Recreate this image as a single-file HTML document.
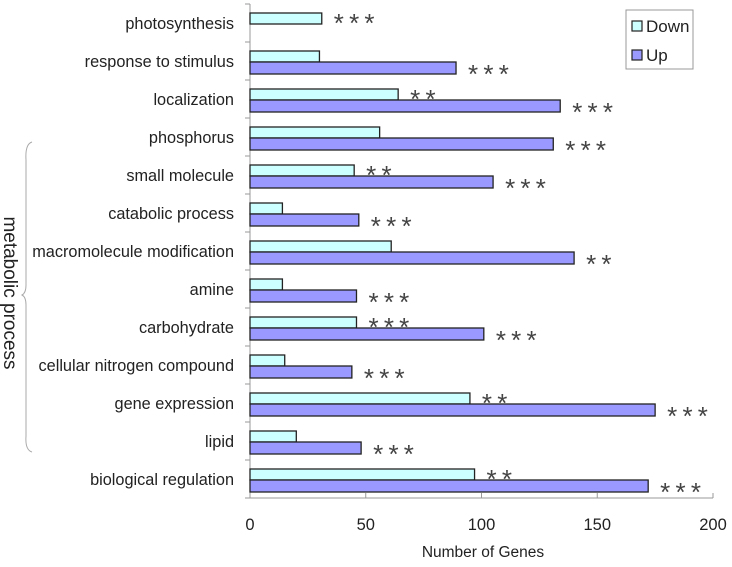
<!DOCTYPE html>
<html><head><meta charset="utf-8"><style>
html,body{margin:0;padding:0;background:#fff;}
svg{display:block;font-family:"Liberation Sans",Arial,sans-serif;}
</style></head><body>
<svg id="chart" width="732" height="567" viewBox="0 0 732 567" xmlns="http://www.w3.org/2000/svg">
<g id="plot"></g>
<g>
<rect x="626" y="10" width="67" height="59" fill="#fff" stroke="#999" stroke-width="1"/>
<rect x="632" y="21" width="10" height="10" fill="#ccffff" stroke="#222" stroke-width="1.2"/>
<text x="646" y="32" font-size="17" fill="#222">Down</text>
<rect x="632" y="50" width="10" height="10" fill="#9999ff" stroke="#222" stroke-width="1.2"/>
<text x="646" y="61" font-size="17" fill="#222">Up</text>
</g>
<text x="483" y="557" font-size="15.5" text-anchor="middle" fill="#222">Number of Genes</text>
<path d="M32,142 Q25,144 26,160 L26,285 Q26,293 22,295 Q26,297 26,305 L26,436 Q25,450 32,452" fill="none" stroke="#aaa" stroke-width="1"/>
<text transform="translate(4,293) rotate(90)" font-size="19" text-anchor="middle" fill="#222">metabolic process</text>
</svg>
<script>
const categories=["photosynthesis","response to stimulus","localization","phosphorus","small molecule","catabolic process","macromolecule modification","amine","carbohydrate","cellular nitrogen compound","gene expression","lipid","biological regulation"];
const downValues=[31,30,64,56,45,14,61,14,46,15,95,20,97];
const upValues=[0,89,134,131,105,47,140,46,101,44,175,48,172];
const downStars=["* * *","","* *","","* *","","","","* * *","","* *","","* *"];
const upStars=["","* * *","* * *","* * *","* * *","* * *","* *","* * *","* * *","* * *","* * *","* * *","* * *"];
const xTicks=[0,50,100,150,200];
const NS="http://www.w3.org/2000/svg";
const X0=250,X1=713,Y0=4,Y1=498;
const xs=v=>X0+(v/200)*(X1-X0);
const slot=(Y1-Y0)/categories.length;
const ys=i=>Y0+i*slot;
const plot=document.getElementById('plot');
function mk(tag,attrs){const e=document.createElementNS(NS,tag);for(const k in attrs)e.setAttribute(k,attrs[k]);plot.appendChild(e);return e;}
let ax=mk('line',{x1:X0,y1:Y0,x2:X0,y2:Y1,stroke:'#999','stroke-width':1});


let bx=mk('line',{x1:X0,y1:Y1,x2:X1,y2:Y1,stroke:'#999','stroke-width':1});


for(let i=0;i<=categories.length;i++){
  const t=mk('line',{x1:X0-5,y1:ys(i),x2:X0,y2:ys(i),stroke:'#999','stroke-width':1});
  
  
}
xTicks.forEach(v=>{
  const t=mk('line',{x1:xs(v),y1:Y1,x2:xs(v),y2:Y1-5,stroke:'#999','stroke-width':1});
  
  
  const l=mk('text',{x:xs(v),y:530,'font-size':16.5,'text-anchor':'middle',fill:'#222'});
  l.textContent=v;
  
  
});
categories.forEach((c,i)=>{
  const top=ys(i);
  const lab=mk('text',{x:234,y:top+slot/2+6,'font-size':16.3,'text-anchor':'end',fill:'#222'});
  lab.textContent=c;
  
  
  const dy=top+9, uy=top+20, h=11;
  if(downValues[i]>0){
    const b=mk('rect',{x:X0,y:dy,width:xs(downValues[i])-X0,height:h,fill:'#ccffff',stroke:'#222','stroke-width':1.3});
    
    
  }
  if(upValues[i]>0){
    const b=mk('rect',{x:X0,y:uy,width:xs(upValues[i])-X0,height:h+1,fill:'#9999ff',stroke:'#222','stroke-width':1.3});
    
    
  }
  if(downStars[i]){
    const s=mk('text',{x:xs(downValues[i])+12,y:dy+19,'font-size':26,'letter-spacing':-1,fill:'#444'});
    s.textContent=downStars[i];
    
    
  }
  if(upStars[i]){
    const s=mk('text',{x:xs(upValues[i])+12,y:uy+21,'font-size':26,'letter-spacing':-1,fill:'#444'});
    s.textContent=upStars[i];
    
    
  }
});
</script>
</body></html>
